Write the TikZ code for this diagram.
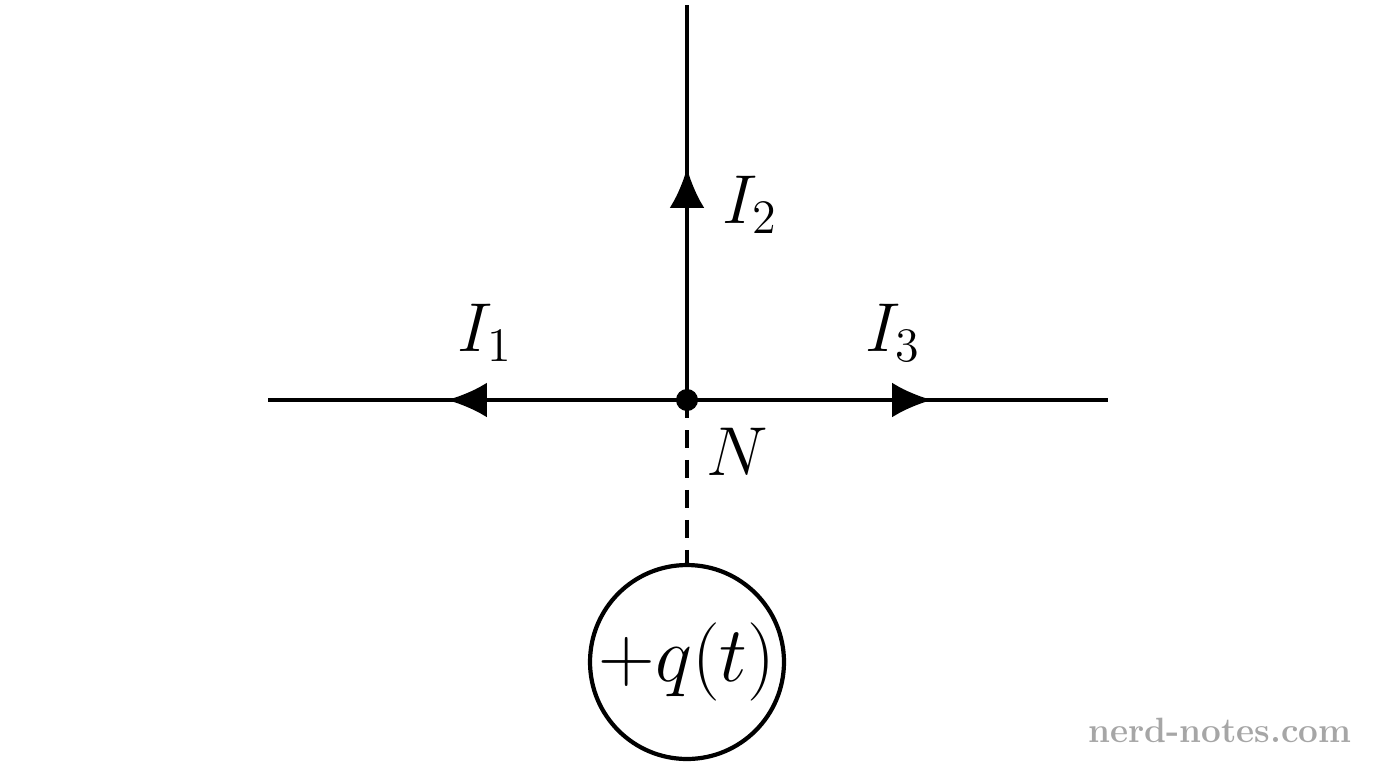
\documentclass[tikz,border=0pt]{standalone}
\usetikzlibrary{arrows.meta}
\newcommand{\bigtxt}[2][1.9]{\scalebox{#1}{\huge #2}}
\begin{document}
\begin{tikzpicture}[x=0.02cm,y=-0.02cm,
  wire/.style={line width=2.4pt},
  tip/.style={-{Latex[length=0.8cm,width=0.7cm]}}]
\useasboundingbox (0,0) rectangle (1376,768);
\coordinate (N) at (687,400);
\coordinate (L) at (268,400);
\coordinate (R) at (1108,400);
\coordinate (T) at (687,5);
\coordinate (la) at (447,400);
\coordinate (ra) at (932,400);
\coordinate (ta) at (687,168);
\draw[wire] (L) -- (R);
\draw[wire] (N) -- (T);
\draw[wire,tip] (N) -- (la);
\draw[wire,tip] (N) -- (ra);
\draw[wire,tip] (N) -- (ta);
\fill (N) circle (11);
\node[draw,circle,wire,minimum size=3.88cm,inner sep=0] (q) at (687,662) {};
\node[inner sep=0] (qt) at (687,662) {\bigtxt[2.15]{$+q(t)$}};
\draw[wire,dash pattern=on 0.36cm off 0.24cm] (N) -- (q.north);
\node (i1) at (485,333) {\bigtxt{$I_1$}};
\node (i2) at (750,205) {\bigtxt{$I_2$}};
\node (i3) at (893,333) {\bigtxt{$I_3$}};
\node (n) at (737,452) {\bigtxt{$N$}};
\node[text=black!35,font=\fontsize{20}{24}\selectfont\bfseries] (w) at (1220,730) {nerd-notes.com};
\end{tikzpicture}
\end{document}
